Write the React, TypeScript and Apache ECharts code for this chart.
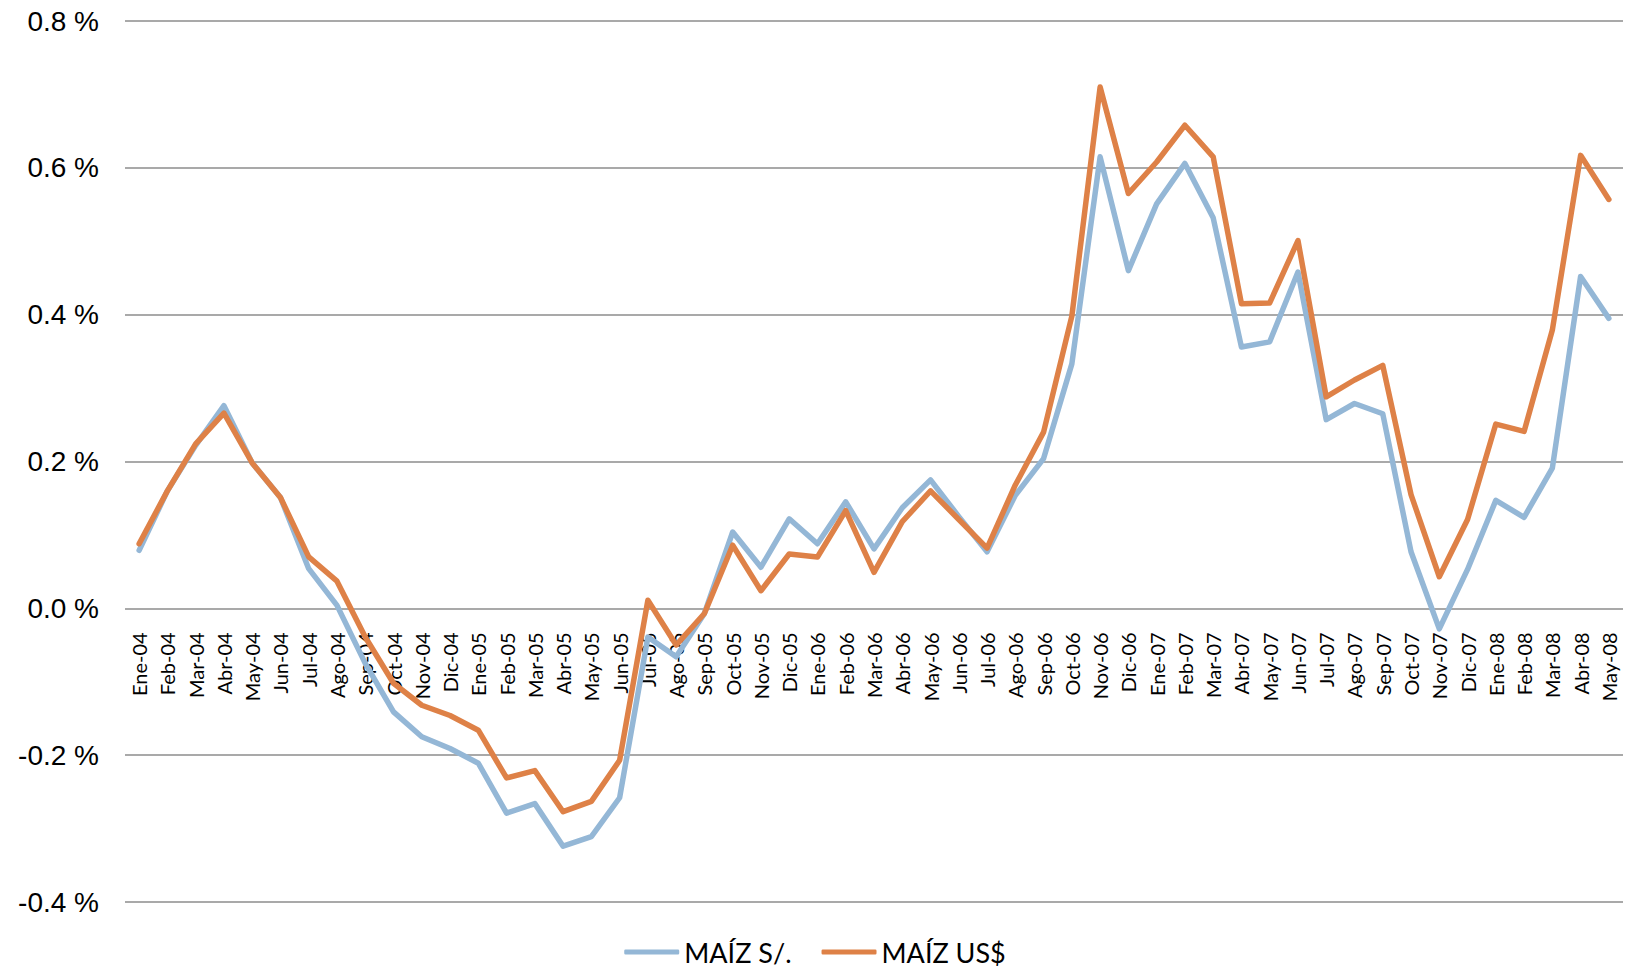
import React, { useEffect, useRef } from "react";
import * as echarts from "echarts";

const categories: string[] = [
  "Ene-04", "Feb-04", "Mar-04", "Abr-04", "May-04", "Jun-04", "Jul-04", "Ago-04", "Sep-04", "Oct-04", "Nov-04", "Dic-04",
  "Ene-05", "Feb-05", "Mar-05", "Abr-05", "May-05", "Jun-05", "Jul-05", "Ago-05", "Sep-05", "Oct-05", "Nov-05", "Dic-05",
  "Ene-06", "Feb-06", "Mar-06", "Abr-06", "May-06", "Jun-06", "Jul-06", "Ago-06", "Sep-06", "Oct-06", "Nov-06", "Dic-06",
  "Ene-07", "Feb-07", "Mar-07", "Abr-07", "May-07", "Jun-07", "Jul-07", "Ago-07", "Sep-07", "Oct-07", "Nov-07", "Dic-07",
  "Ene-08", "Feb-08", "Mar-08", "Abr-08", "May-08",
];

const maizSoles: number[] = [
  0.079, 0.160, 0.222, 0.276, 0.198, 0.151, 0.054, 0.004, -0.075, -0.141, -0.175, -0.191,
  -0.211, -0.279, -0.266, -0.324, -0.311, -0.258, -0.039, -0.066, -0.007, 0.104, 0.056, 0.122,
  0.088, 0.145, 0.081, 0.137, 0.175, 0.125, 0.077, 0.154, 0.204, 0.333, 0.615, 0.460,
  0.551, 0.606, 0.532, 0.356, 0.363, 0.458, 0.257, 0.279, 0.265, 0.077, -0.028, 0.053,
  0.147, 0.124, 0.191, 0.452, 0.395,
];

const maizDolares: number[] = [
  0.088, 0.160, 0.224, 0.266, 0.198, 0.151, 0.070, 0.037, -0.039, -0.102, -0.132, -0.146,
  -0.166, -0.231, -0.221, -0.277, -0.263, -0.207, 0.011, -0.050, -0.007, 0.086, 0.024, 0.074,
  0.070, 0.133, 0.049, 0.118, 0.160, 0.121, 0.082, 0.168, 0.240, 0.398, 0.710, 0.565,
  0.608, 0.658, 0.615, 0.415, 0.416, 0.501, 0.288, 0.311, 0.331, 0.155, 0.043, 0.121,
  0.251, 0.241, 0.379, 0.617, 0.557,
];

const seriesNames: string[] = ["MAÍZ S/.", "MAÍZ US$"];
const Y_MIN = -0.4;
const Y_MAX = 0.8;

const BLUE = "#94B7D6";
const ORANGE = "#DE8147";
const GRID_GRAY = "#8c8c8c";

const WIDTH = 1630;
const HEIGHT = 973;
const GRID_TOP = 21;
const GRID_BOTTOM = 71;

export default function App() {
  const ref = useRef<HTMLDivElement>(null);

  useEffect(() => {
    document.body.style.margin = "0";
    if (!ref.current) return;
    const chart = echarts.init(ref.current, undefined, { renderer: "svg" });
    const plotH = HEIGHT - GRID_TOP - GRID_BOTTOM;
    const zeroOffset = -plotH * ((0 - Y_MIN) / (Y_MAX - Y_MIN));
    chart.setOption({
      animation: false,
      backgroundColor: "#ffffff",
      grid: {
        left: 125,
        right: 7,
        top: GRID_TOP,
        bottom: GRID_BOTTOM,
        containLabel: false,
        outerBoundsMode: "none",
      },
      legend: {
        data: seriesNames,
        left: "center",
        top: 936,
        padding: [0, 5, 0, 5],
        icon: "roundRect",
        itemWidth: 55,
        itemHeight: 5,
        itemGap: 30,
        textStyle: { fontFamily: "Lato", fontSize: 27, color: "#000", lineHeight: 32 },
      },
      xAxis: {
        type: "category",
        data: categories,
        boundaryGap: true,
        position: "bottom",
        offset: zeroOffset,
        axisLine: { show: false, onZero: false },
        axisTick: { show: false },
        axisLabel: {
          interval: 0,
          rotate: 90,
          margin: 24,
          fontFamily: "Lato",
          fontSize: 20,
          color: "#000",
        },
      },
      yAxis: {
        type: "value",
        min: Y_MIN,
        max: Y_MAX,
        interval: 0.2,
        axisLine: { show: false },
        axisTick: { show: false },
        axisLabel: {
          margin: 26,
          fontFamily: "Liberation Sans, Arial",
          fontSize: 28,
          color: "#000",
          formatter: (v: number) => v.toFixed(1) + " %",
        },
        splitLine: { lineStyle: { color: GRID_GRAY, width: 1.5 } },
      },
      series: [
        {
          name: seriesNames[0],
          type: "line",
          data: maizSoles,
          symbol: "none",
          itemStyle: { color: BLUE },
          lineStyle: { color: BLUE, width: 5.5, cap: "round", join: "round" },
        },
        {
          name: seriesNames[1],
          type: "line",
          data: maizDolares,
          symbol: "none",
          itemStyle: { color: ORANGE },
          lineStyle: { color: ORANGE, width: 5.5, cap: "round", join: "round" },
        },
      ],
    });
    return () => chart.dispose();
  }, []);

  return <div ref={ref} style={{ width: WIDTH, height: HEIGHT }} />;
}
